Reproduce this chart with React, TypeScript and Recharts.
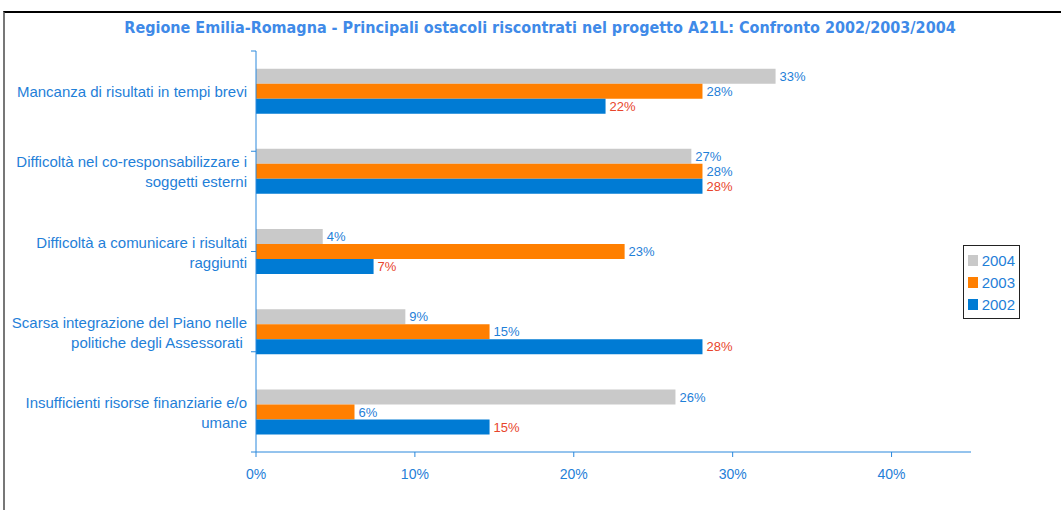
import { Bar, BarChart, LabelList, Legend, XAxis, YAxis } from "recharts";

const categories = [
  ["Mancanza di risultati in tempi brevi"],
  ["Difficoltà nel co-responsabilizzare i", "soggetti esterni"],
  ["Difficoltà a comunicare i risultati", "raggiunti"],
  ["Scarsa integrazione del Piano nelle", "politiche degli Assessorati "],
  ["Insufficienti risorse finanziarie e/o", "umane"],
];
const values2004 = [32.7, 27.4, 4.2, 9.4, 26.4];
const values2003 = [28.1, 28.1, 23.2, 14.7, 6.2];
const values2002 = [22.0, 28.1, 7.4, 28.1, 14.7];
const legendOrder = ["2004", "2003", "2002"];
const xTicks = [0, 10, 20, 30, 40];
const edgeTicks = [0, 1, 2, 3, 4, 5];

const data = categories.map((lines, i) => ({
  name: lines.join(" "),
  y2004: values2004[i],
  y2003: values2003[i],
  y2002: values2002[i],
}));

const BLUE_TEXT = "#1f80d8";
const AXIS = "#2a88dc";
const FONT = "'Liberation Sans', Arial, sans-serif";

function CategoryTick(props: any) {
  const { x, y, index } = props;
  const lines: string[] = categories[index] ?? [];
  const start = y - ((lines.length - 1) * 20) / 2;
  const tx = x - 2;
  return (
    <text x={tx} y={start} textAnchor="end" fill={BLUE_TEXT} fontSize={15} fontFamily={FONT} dominantBaseline="central">
      {lines.map((l, i) => (
        <tspan key={i} x={tx} dy={i === 0 ? 0 : 20} style={{ whiteSpace: "pre" }}>
          {l}
        </tspan>
      ))}
    </text>
  );
}

function LegendBox({ payload }: any) {
  const items = [...(payload ?? [])].sort(
    (a: any, b: any) => legendOrder.indexOf(a.value) - legendOrder.indexOf(b.value)
  );
  return (
    <div
      style={{
        border: "1.5px solid #222",
        background: "#fff",
        padding: "3px 4px",
        width: 47,
        fontFamily: FONT,
      }}
    >
      {items.map((p: any) => (
        <div key={p.value} style={{ display: "flex", alignItems: "center", height: 22 }}>
          <span style={{ width: 11, height: 11, background: p.color, marginRight: 4 }} />
          <span style={{ color: BLUE_TEXT, fontSize: 15 }}>{p.value}</span>
        </div>
      ))}
    </div>
  );
}

const fmt = (v: any) => `${Math.round(Number(v))}%`;

export default function App() {
  return (
    <div style={{ position: "fixed", left: 0, top: 0, width: 1061, height: 510, overflow: "hidden", background: "#fff" }}>
      <div
        style={{
          position: "absolute",
          left: 3,
          top: 11,
          width: 1200,
          height: 700,
          borderTop: "2px solid #000",
          borderLeft: "2px solid #777",
        }}
      />
      <div
        style={{
          position: "absolute",
          left: 0,
          top: 18,
          width: 1080,
          textAlign: "center",
          fontFamily: "'DejaVu Sans Condensed', 'Liberation Sans Narrow', sans-serif",
          fontWeight: "bold",
          fontSize: 16,
          color: "#3f8ae8",
        }}
      >
        Regione Emilia-Romagna - Principali ostacoli riscontrati nel progetto A21L: Confronto 2002/2003/2004
      </div>
      <div style={{ position: "absolute", left: 0, top: 0 }}>
        <BarChart
          width={1061}
          height={510}
          data={data}
          layout="vertical"
          margin={{ top: 51, right: 90, bottom: 28, left: 0 }}
          barCategoryGap="22%"
          barGap={0}
        >
          <XAxis
            type="number"
            domain={[0, 45]}
            ticks={xTicks}
            tickFormatter={(v) => `${v}%`}
            stroke={AXIS}
            tickSize={5}
            tickMargin={12}
            tick={{ fill: BLUE_TEXT, fontSize: 14, fontFamily: FONT }}
            allowDataOverflow
          />
          <YAxis
            yAxisId="cat"
            type="category"
            dataKey="name"
            axisLine={false}
            tickLine={false}
            width={255}
            tickMargin={0}
            tick={<CategoryTick />}
            interval={0}
          />
          <YAxis
            yAxisId="0edge"
            type="number"
            domain={[0, 5]}
            ticks={edgeTicks}
            tick={() => <g />}
            tickLine={{ stroke: AXIS }}
            tickSize={5}
            stroke={AXIS}
            width={1}
            reversed
          />
          <Legend
            layout="vertical"
            align="center"
            verticalAlign="middle"
            content={<LegendBox />}
            wrapperStyle={{ position: "absolute", left: 963, top: 245, width: "auto", height: "auto" }}
          />
          <Bar yAxisId="cat" dataKey="y2004" name="2004" fill="#c9c9c9" isAnimationActive={false}>
            <LabelList dataKey="y2004" position="right" offset={4} formatter={fmt} fill={BLUE_TEXT} fontSize={13} fontFamily={FONT} />
          </Bar>
          <Bar yAxisId="cat" dataKey="y2003" name="2003" fill="#ff7f00" isAnimationActive={false}>
            <LabelList dataKey="y2003" position="right" offset={4} formatter={fmt} fill={BLUE_TEXT} fontSize={13} fontFamily={FONT} />
          </Bar>
          <Bar yAxisId="cat" dataKey="y2002" name="2002" fill="#007bd4" isAnimationActive={false}>
            <LabelList dataKey="y2002" position="right" offset={4} formatter={fmt} fill="#e8452c" fontSize={13} fontFamily={FONT} />
          </Bar>
        </BarChart>
      </div>
    </div>
  );
}
